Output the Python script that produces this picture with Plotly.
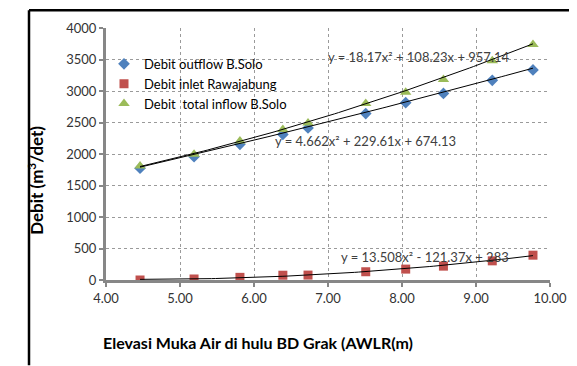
import numpy as np
import plotly.graph_objects as go

# ---- data ----
elevasi = [4.46, 5.19, 5.81, 6.39, 6.73, 7.51, 8.05, 8.56, 9.22, 9.77]
outflow = [1775, 1958, 2153, 2310, 2414, 2641, 2814, 2961, 3170, 3334]
inlet = [0, 16, 42, 76, 78, 131, 173, 220, 304, 394]
total_inflow = [1811, 1995, 2205, 2389, 2493, 2803, 2981, 3181, 3480, 3737]

series_names = ["Debit outflow B.Solo", "Debit inlet Rawajabung", "Debit  total inflow B.Solo"]
coef_outflow = (4.662, 229.61, 674.13)
coef_inlet = (13.508, -121.37, 283.0)
coef_total = (18.17, 108.23, 957.14)
eq_labels = ["y = 4.662x² + 229.61x + 674.13",
             "y = 13.508x² - 121.37x + 283",
             "y = 18.17x² + 108.23x + 957.14"]
x_ticks = [4, 5, 6, 7, 8, 9, 10]
y_ticks = [0, 500, 1000, 1500, 2000, 2500, 3000, 3500, 4000]

BLUE = "#4F81BD"
RED = "#C0504D"
GREEN = "#9BBB59"
FONT = "Lato, 'Open Sans', sans-serif"

OFF = 8
L, T = 106 - OFF, 26 - OFF
PW, PH = 444, 254
R = 577 - (L + PW)
B = 366 - (T + PH)


def px(xp):
    return (xp - OFF - L) / PW


def py(yp):
    return (T + PH - (yp - OFF)) / PH


fig = go.Figure()
fig.add_trace(go.Scatter(x=elevasi, y=outflow, mode="markers", name=series_names[0],
                         marker=dict(symbol="diamond", size=9, color=BLUE)))
fig.add_trace(go.Scatter(x=elevasi, y=inlet, mode="markers", name=series_names[1],
                         marker=dict(symbol="square", size=9, color=RED)))
fig.add_trace(go.Scatter(x=elevasi, y=total_inflow, mode="markers", name=series_names[2],
                         marker=dict(symbol="triangle-up", size=10, color=GREEN)))

xs = np.linspace(min(elevasi), max(elevasi), 100)
for a, b, c in (coef_outflow, coef_inlet, coef_total):
    fig.add_trace(go.Scatter(x=xs, y=a * xs**2 + b * xs + c, mode="lines",
                             line=dict(color="black", width=1), showlegend=False,
                             hoverinfo="skip"))

ann_font = dict(family=FONT, size=13, color="#404040")
annotations = [
    dict(x=7.51, y=2205, text=eq_labels[0], showarrow=False, font=ann_font),
    dict(x=8.31, y=362, text=eq_labels[1], showarrow=False, font=ann_font),
    dict(x=8.22, y=3543, text=eq_labels[2], showarrow=False, font=ann_font),
    dict(xref="paper", yref="paper", x=px(36), y=py(180),
         text="<b>Debit (m<sup>3</sup>/det)</b>", textangle=-90, showarrow=False,
         xanchor="center", yanchor="middle",
         font=dict(family=FONT, size=17, color="#000000")),
    dict(xref="paper", yref="paper", x=px(258), y=py(343),
         text="<b>Elevasi Muka Air di hulu BD Grak (AWLR(m)</b>", showarrow=False,
         xanchor="center", yanchor="middle",
         font=dict(family=FONT, size=16, color="#000000")),
]

FRAME_X = 29  # empirically tuned page position for the left frame line
shapes = [
    dict(type="line", xref="paper", yref="paper", x0=px(FRAME_X), x1=px(600),
         y0=py(8), y1=py(8), line=dict(color="black", width=2.5), layer="above"),
    dict(type="line", xref="paper", yref="paper", x0=px(FRAME_X), x1=px(FRAME_X),
         y0=py(8), y1=py(366), line=dict(color="black", width=2.5), layer="above"),
]

fig.update_layout(
    width=577, height=366,
    margin=dict(l=L, r=R, t=T, b=B),
    paper_bgcolor="white", plot_bgcolor="white",
    font=dict(family=FONT, size=13, color="#333333"),
    showlegend=True,
    legend=dict(x=px(104), y=py(47), xanchor="left", yanchor="top",
                bgcolor="rgba(255,255,255,0)", font=dict(family=FONT, size=13, color="#000000"),
                itemwidth=30),
    annotations=annotations,
    shapes=shapes,
)
axis_common = dict(showgrid=True, gridcolor="#9a9a9a", griddash="dot", gridwidth=1,
                   showline=True, linecolor="#878787", linewidth=3,
                   ticks="outside", ticklen=4, tickwidth=2, tickcolor="#878787",
                   zeroline=False, tickfont=dict(family=FONT, size=13, color="#333333"))
fig.update_xaxes(range=[4, 10], tickvals=x_ticks, tickformat=".2f", **axis_common)
fig.update_yaxes(range=[0, 4000], tickvals=y_ticks, **axis_common)

fig.write_html("out.html")
